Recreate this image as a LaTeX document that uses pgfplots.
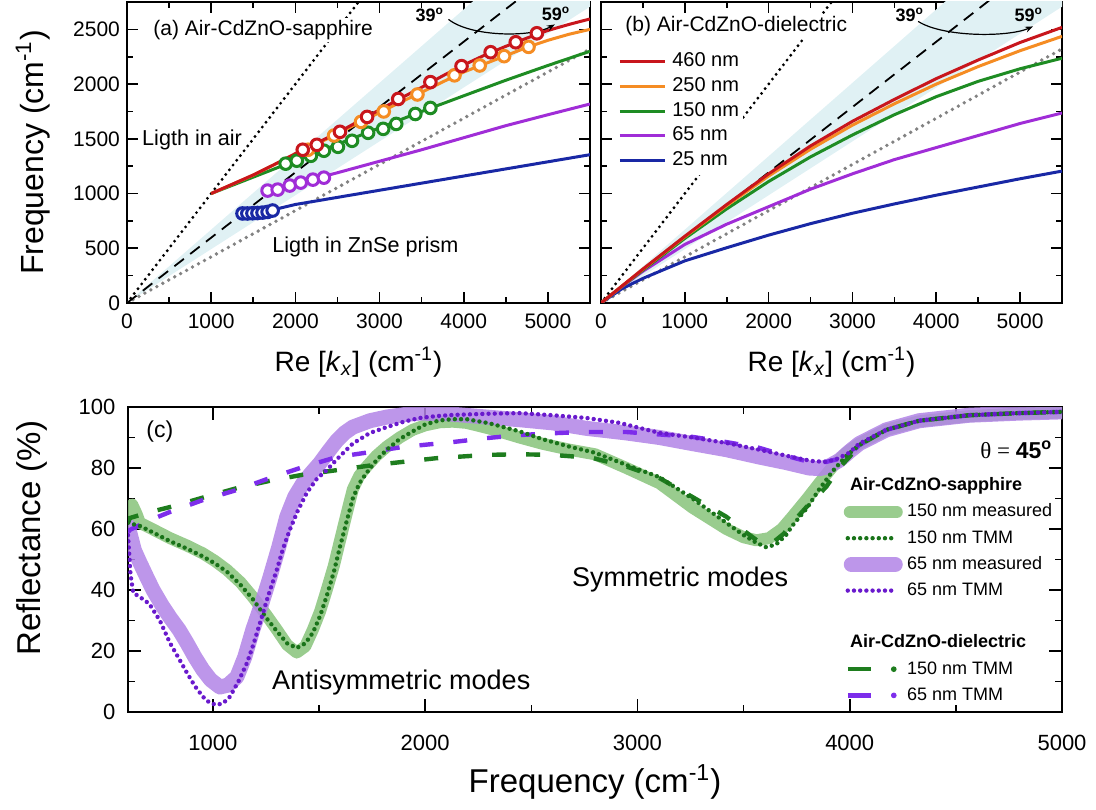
\documentclass[border=0pt]{standalone}
\usepackage{pgfplots}
\pgfplotsset{compat=1.18}
\usepackage{fontspec}
\setmainfont{Liberation Sans}
\newfontfamily\serifgreek{Liberation Serif}
\usetikzlibrary{arrows.meta}

% dispersion colours
\definecolor{cRed}{RGB}{200,22,28}
\definecolor{cOrange}{RGB}{245,140,35}
\definecolor{cGreen}{RGB}{30,140,35}
\definecolor{cPurple}{RGB}{160,45,215}
\definecolor{cBlue}{RGB}{25,40,165}
\definecolor{shade}{RGB}{224,241,244}
\definecolor{lineGray}{RGB}{130,130,130}
% reflectance colours
\definecolor{gBand}{RGB}{135,195,122}
\definecolor{pBand}{RGB}{178,132,230}
\definecolor{gTMM}{RGB}{25,115,25}
\definecolor{pTMM}{RGB}{105,25,205}
\definecolor{gDash}{RGB}{30,125,30}
\definecolor{pDash}{RGB}{125,45,235}

\pgfplotsset{
  panel/.style={
    scale only axis, anchor=south west,
    axis line style={line width=1pt},
    tick align=inside,
    tick style={black, line width=0.8pt},
    major tick length=5.5pt, minor tick length=3pt,
    scaled ticks=false,
    /pgf/number format/assume math mode=true,
    /pgf/number format/1000 sep={},
    tick label style={font=\fontsize{10.5}{12}\selectfont},
    xticklabel style={yshift=-2pt},
  },
  disp/.style={line width=1.5pt},
  airline/.style={black, line width=1.6pt, dash pattern=on 0pt off 3pt, line cap=round},
  prismline/.style={lineGray, line width=1.9pt, dash pattern=on 0pt off 3.4pt, line cap=round},
  angleline/.style={black, line width=0.9pt, dash pattern=on 6pt off 4pt},
  circ/.style={only marks, mark=*, mark size=2.9pt, draw=#1, fill=white, mark options={line width=1.5pt, solid}},
  band/.style={line width=#1, line join=round, line cap=round, opacity=0.85},
  tmm/.style={line width=2.2pt, dash pattern=on 0pt off 3.1pt, line cap=round},
  diel/.style={line width=2.2pt, dash pattern=on 7pt off 10pt},
}

\begin{document}
\begin{tikzpicture}
\useasboundingbox (0,0) rectangle (548pt,404.5pt);

% ---------------- (a) Air-CdZnO-sapphire ----------------
\begin{axis}[panel,
  at={(63.5pt,253pt)}, width=231.5pt, height=150.5pt,
  xmin=0, xmax=5500, ymin=0, ymax=2750,
  xtick={0,1000,...,5000}, minor xtick={500,1500,...,5500},
  ytick={0,500,...,2500}, minor ytick={250,750,...,2750},
  xlabel={Re [\textit{k}\textsubscript{\textit{x}}] (cm\textsuperscript{-1})},
  ylabel={Frequency (cm\textsuperscript{-1})},
  xlabel style={font=\fontsize{14}{16}\selectfont, at={(axis description cs:0.5,-0.196)}, anchor=center},
  ylabel style={font=\fontsize{16}{18}\selectfont, at={(axis description cs:-0.203,0.5)}, anchor=center},
]
% 39-59 degree incidence window in the prism
\addplot[draw=none, fill=shade] coordinates {(0,0) (5500,3688) (5500,2707) (0,0)};
\addplot[airline] coordinates {(0,0) (3000,3000)};
\addplot[prismline] coordinates {(0,0) (5500,2321)};
\addplot[angleline] coordinates {(0,0) (5500,3282)};

\addplot[disp, cBlue] coordinates {(1350,815) (1700,845) (2000,900) (2500,965) (3000,1030) (3500,1095) (4000,1160) (4500,1225) (5000,1290) (5500,1355)};
\addplot[disp, cPurple] coordinates {(1620,1025) (2000,1090) (2500,1190) (3000,1295) (3500,1400) (4000,1510) (4500,1620) (5000,1720) (5500,1818)};
\addplot[disp, cGreen] coordinates {(1000,1000) (1500,1150) (2000,1300) (2500,1450) (3000,1600) (3500,1750) (4000,1893) (4500,2035) (5000,2170) (5500,2300)};
\addplot[disp, cOrange] coordinates {(1000,1000) (1500,1168) (2000,1360) (2500,1545) (2750,1645) (3000,1740) (3250,1835) (3500,1925) (3750,2020) (4000,2110) (4250,2185) (4500,2260) (4750,2335) (5000,2400) (5250,2455) (5500,2500)};
\addplot[disp, cRed] coordinates {(1000,1000) (1250,1085) (1500,1170) (1750,1265) (2000,1365) (2250,1460) (2500,1555) (2750,1660) (3000,1765) (3250,1870) (3500,1970) (3750,2075) (4000,2175) (4250,2265) (4500,2345) (4750,2420) (5000,2490) (5250,2545) (5500,2595)};

\addplot[circ=cBlue] coordinates {(1372,818) (1430,818) (1490,820) (1550,822) (1610,826) (1670,832) (1730,845)};
\addplot[circ=cPurple] coordinates {(1670,1027) (1790,1036) (1933,1073) (2064,1100) (2208,1127) (2339,1145)};
\addplot[circ=cGreen] coordinates {(1885,1273) (2017,1300) (2184,1345) (2339,1391) (2506,1427) (2673,1482) (2864,1555) (3043,1591) (3198,1636) (3425,1727) (3604,1782)};
\addplot[circ=cOrange] coordinates {(2150,1400) (2460,1530) (2780,1655) (3050,1750) (3450,1905) (3890,2080) (4190,2170) (4480,2255) (4770,2340)};
\addplot[circ=cRed] coordinates {(2088,1400) (2255,1445) (2530,1564) (2852,1700) (3222,1864) (3604,2018) (3974,2164) (4320,2291) (4618,2382) (4869,2464)};

\node[anchor=west, fill=white, inner sep=1pt, font=\fontsize{10.5}{12}\selectfont] at (rel axis cs:0.052,0.907) {(a) Air-CdZnO-sapphire};
\node[anchor=west, inner sep=0pt, font=\fontsize{10.8}{12}\selectfont] at (rel axis cs:0.032,0.5415) {Ligth in air};
\node[anchor=west, inner sep=0pt, font=\fontsize{10.8}{12}\selectfont] at (rel axis cs:0.313,0.186) {Ligth in ZnSe prism};
\node[font=\bfseries\fontsize{9}{10}\selectfont] at (rel axis cs:0.654,0.957) {39\textsuperscript{o}};
\node[font=\bfseries\fontsize{9}{10}\selectfont] at (rel axis cs:0.9266,0.960) {59\textsuperscript{o}};
\draw[line width=0.6pt, -{Stealth[length=4pt, width=3pt]}] (axis cs:3819,2591) .. controls (axis cs:4093,2427) and (axis cs:4809,2427) .. (axis cs:5083,2545);
\end{axis}

% ---------------- (b) Air-CdZnO-dielectric ----------------
\begin{axis}[panel,
  at={(300.5pt,253pt)}, width=230.5pt, height=150.5pt,
  xmin=0, xmax=5500, ymin=0, ymax=2750,
  xtick={0,1000,...,5000}, minor xtick={500,1500,...,5500},
  ytick={0,500,...,2500}, minor ytick={250,750,...,2750},
  yticklabels={},
  xlabel={Re [\textit{k}\textsubscript{\textit{x}}] (cm\textsuperscript{-1})},
  xlabel style={font=\fontsize{14}{16}\selectfont, at={(axis description cs:0.5,-0.196)}, anchor=center},
  legend image code/.code={\draw[#1] (0pt,0pt) -- (22.5pt,0pt);},
  reverse legend,
  legend cell align=left,
  legend style={at={(0.028,0.85)}, anchor=north west, draw=none, fill=white,
    inner sep=2pt, font=\fontsize{10}{12}\selectfont, row sep=2.5pt, column sep=3pt,
    nodes={inner sep=0pt, text height=7.5pt, text depth=2.4pt}},
]
\addplot[draw=none, fill=shade, forget plot] coordinates {(0,0) (5500,3688) (5500,2707) (0,0)};
\addplot[airline, forget plot] coordinates {(0,0) (3000,3000)};
\addplot[prismline, forget plot] coordinates {(0,0) (5500,2321)};
\addplot[angleline, forget plot] coordinates {(0,0) (5500,3282)};

\addplot[disp, cBlue] coordinates {(0,0) (250,130) (500,225) (1000,385) (1500,505) (2000,620) (2500,725) (3000,820) (3500,905) (4000,985) (4500,1060) (5000,1135) (5500,1205)};
\addlegendentry{25 nm}
\addplot[disp, cPurple] coordinates {(0,0) (250,150) (500,290) (1000,535) (1500,720) (2000,880) (2500,1040) (3000,1180) (3500,1310) (4000,1420) (4500,1530) (5000,1640) (5500,1736)};
\addlegendentry{65 nm}
\addplot[disp, cGreen] coordinates {(0,0) (250,152) (500,300) (1000,590) (1500,860) (2000,1110) (2500,1335) (3000,1535) (3500,1720) (4000,1885) (4500,2025) (5000,2140) (5500,2236)};
\addlegendentry{150 nm}
\addplot[disp, cOrange] coordinates {(0,0) (250,155) (500,308) (1000,605) (1500,890) (2000,1160) (2500,1405) (3000,1625) (3500,1820) (4000,2000) (4500,2160) (5000,2305) (5500,2436)};
\addlegendentry{250 nm}
\addplot[disp, cRed] coordinates {(0,0) (250,155) (500,310) (1000,610) (1500,900) (2000,1180) (2500,1435) (3000,1660) (3500,1860) (4000,2050) (4500,2220) (5000,2380) (5500,2518)};
\addlegendentry{460 nm}

\node[anchor=west, fill=white, inner sep=1pt, font=\fontsize{10.5}{12}\selectfont] at (rel axis cs:0.0477,0.920) {(b) Air-CdZnO-dielectric};
\node[font=\bfseries\fontsize{9}{10}\selectfont] at (rel axis cs:0.670,0.957) {39\textsuperscript{o}};
\node[font=\bfseries\fontsize{9}{10}\selectfont] at (rel axis cs:0.928,0.957) {59\textsuperscript{o}};
\draw[line width=0.6pt, -{Stealth[length=4pt, width=3pt]}] (axis cs:3783,2573) .. controls (axis cs:4081,2427) and (axis cs:4857,2427) .. (axis cs:5155,2527);
\end{axis}

% ---------------- (c) reflectance at 45 degrees ----------------
\begin{axis}[panel,
  at={(64pt,48.5pt)}, width=467pt, height=152.5pt,
  xmin=600, xmax=5000, ymin=0, ymax=100,
  xtick={1000,2000,...,5000}, minor xtick={1500,2500,3500,4500},
  ytick={0,20,...,100}, minor ytick={10,30,...,90},
  major tick length=6.5pt, minor tick length=3.5pt,
  tick label style={font=\fontsize{11}{13}\selectfont},
  xticklabel style={yshift=-6pt},
  yticklabel style={xshift=-2.8pt},
  xlabel={Frequency (cm\textsuperscript{-1})},
  ylabel={Reflectance (\%)},
  xlabel style={font=\fontsize{16.5}{18}\selectfont, at={(axis description cs:0.5,-0.2295)}, anchor=center},
  ylabel style={font=\fontsize{16.5}{18}\selectfont, at={(axis description cs:-0.103,0.57)}, anchor=center},
  legend cell align=left,
  legend style={at={(0.7655,0.7725)}, anchor=north west, draw=none, fill=none,
    inner sep=0pt, font=\fontsize{9}{11}\selectfont, row sep=4.1pt, column sep=2pt,
    nodes={inner sep=0pt, text height=7pt, text depth=2pt}},
]
% measured spectra
\addplot[band=6pt, gBand, forget plot] coordinates {(600,66) (620,68) (640,65) (656,62) (700,60.5) (798,57) (880,54.5) (953,52) (1010,49.5) (1066,46.6) (1130,42.5) (1188,37.7) (1250,32) (1301,27) (1350,22) (1395,19.5) (1435,21.5) (1471,27) (1505,33) (1536,40) (1570,48) (1598,56) (1630,65) (1659,73) (1690,77.5) (1725,80.5) (1770,84) (1819,87) (1880,90) (1941,92.5) (2000,94) (2068,95) (2130,95.2) (2195,94.8) (2300,93) (2445,90) (2550,88) (2680,86) (2800,84.5) (2948,80) (3104,75) (3259,67) (3419,60) (3500,57.3) (3560,56.3) (3620,57) (3680,60) (3729,64) (3800,70) (3856,75) (3920,80.5) (3984,85) (4045,88) (4172,92.5) (4327,95.3) (4562,97) (4798,97.8) (5000,98.2)};
\addplot[band=7.5pt, pBand, forget plot] coordinates {(600,61) (609,58.7) (630,53) (656,49) (690,44) (718,40) (760,35) (798,31) (840,27) (878,22.6) (915,18) (953,13.8) (990,10.5) (1033,8.2) (1070,8.8) (1113,11.5) (1150,18) (1188,27) (1230,35.5) (1268,44) (1310,54) (1348,64) (1385,70.5) (1424,75) (1465,78.5) (1504,81.6) (1545,85.5) (1584,89) (1620,91.5) (1659,93.4) (1740,95.5) (1819,96.7) (1900,97.5) (1974,98) (2100,97.8) (2289,96.7) (2450,95.8) (2600,94.8) (2760,93) (2948,91.5) (3104,90) (3259,88) (3420,86) (3574,83.6) (3700,81.8) (3809,80) (3860,79.8) (3900,80.5) (3951,82.5) (4000,85.5) (4045,88) (4172,92.5) (4327,95.5) (4562,97.3) (4798,98) (5000,98.4)};
% transfer-matrix spectra, dielectric substrate
\addplot[diel, gDash, forget plot] coordinates {(600,62) (609,63.6) (700,65.5) (798,67.2) (953,70.3) (1113,73.4) (1268,75.8) (1424,77.8) (1584,79.3) (1739,80.8) (1894,82) (2050,83.2) (2289,84.3) (2445,84.5) (2600,84.3) (2788,83.3) (2948,80.5) (3104,76.7) (3259,70.5) (3419,64) (3500,59.5) (3574,55.7) (3635,55.4) (3690,58.5) (3729,62) (3800,67.5) (3889,73.8) (3950,80) (3998,83.6) (4045,87.5) (4172,92.5) (4327,95.5) (4562,97.3) (4798,98) (5000,98.4)};
\addplot[diel, pDash, forget plot] coordinates {(600,59) (609,59.7) (700,62.8) (798,65.6) (953,69.5) (1113,72.8) (1268,76.7) (1424,80.3) (1584,83.6) (1739,85.2) (1894,86.9) (2129,88.5) (2289,89.8) (2445,90.8) (2633,91.5) (2760,91.8) (2948,91.8) (3104,91) (3259,90.2) (3419,88.5) (3574,86.6) (3700,84) (3809,82) (3889,82) (3950,83) (3998,84.5) (4045,87.5) (4172,92.5) (4327,95.5) (4562,97.3) (4798,98) (5000,98.4)};
% transfer-matrix spectra, sapphire substrate
\addplot[tmm, gTMM, forget plot] coordinates {(600,62) (656,61) (700,59.5) (798,56) (880,53.5) (953,51) (1010,48.7) (1066,46) (1130,41.7) (1188,37) (1250,31) (1301,26.5) (1350,22.5) (1395,21) (1435,22.5) (1471,26) (1505,31.5) (1536,38) (1570,46) (1598,54) (1630,62.5) (1659,70) (1690,75) (1725,78.5) (1770,82.5) (1819,86) (1880,89.5) (1941,92) (2000,94.3) (2068,95.6) (2130,96) (2195,96) (2300,94.7) (2445,92) (2550,89.5) (2680,87) (2800,85) (2948,81) (3104,77) (3259,70) (3419,62) (3500,58) (3560,55.5) (3607,54) (3654,55) (3700,58) (3729,61) (3800,67) (3856,73) (3920,79) (3984,84) (4045,87.5) (4172,92.5) (4327,95.5) (4562,97.3) (4798,98) (5000,98.4)};
\addplot[tmm, pTMM, forget plot] coordinates {(600,58) (612,45) (625,39) (650,38) (700,35.5) (750,30) (798,22.6) (840,17.5) (878,12.8) (915,8.5) (953,5) (985,3) (1019,2.3) (1050,3) (1080,5) (1120,10) (1160,16) (1190,22) (1221,29) (1260,38) (1301,46.6) (1330,53.5) (1362,59.7) (1400,66) (1442,71.8) (1490,76.5) (1536,79.3) (1600,84) (1659,88) (1740,91.5) (1819,93.4) (1900,95.2) (1974,96.4) (2050,97) (2129,97.4) (2300,97.8) (2445,98) (2600,97.3) (2760,96.4) (2915,94.8) (3104,91.5) (3260,90) (3419,88.2) (3574,86) (3729,83.6) (3820,82.3) (3889,82) (3940,83) (3998,85) (4045,88) (4172,92.5) (4327,95.5) (4562,97.3) (4798,98) (5000,98.4)};

% legend
\addlegendimage{empty legend}
\addlegendentry{\hspace*{-28.5pt}\textbf{Air-CdZnO-sapphire}}
\addlegendimage{legend image code/.code={\draw[gBand, opacity=0.85, line width=6pt, line cap=round] (3pt,0pt) -- (26.5pt,0pt); \path (0pt,0pt) (29.5pt,0pt);}}
\addlegendentry{150 nm measured}
\addlegendimage{legend image code/.code={\draw[gTMM, line width=2.2pt, dash pattern=on 0pt off 3.1pt, line cap=round] (2pt,0pt) -- (26pt,0pt); \path (0pt,0pt) (29.5pt,0pt);}}
\addlegendentry{150 nm TMM}
\addlegendimage{legend image code/.code={\draw[pBand, opacity=0.85, line width=7.5pt, line cap=round] (3.75pt,0pt) -- (25.75pt,0pt); \path (0pt,0pt) (29.5pt,0pt);}}
\addlegendentry{65 nm measured}
\addlegendimage{legend image code/.code={\draw[pTMM, line width=2.2pt, dash pattern=on 0pt off 3.1pt, line cap=round] (2pt,0pt) -- (26pt,0pt); \path (0pt,0pt) (29.5pt,0pt);}}
\addlegendentry{65 nm TMM}
\addlegendimage{empty legend}
\addlegendentry{}
\addlegendimage{empty legend}
\addlegendentry{\hspace*{-28.5pt}\textbf{Air-CdZnO-dielectric}}
\addlegendimage{legend image code/.code={\draw[gDash, line width=2.2pt] (2pt,0pt) -- (13.5pt,0pt); \fill[gDash] (25pt,0pt) circle (1.2pt); \path (0pt,0pt) (29.5pt,0pt);}}
\addlegendentry{150 nm TMM}
\addlegendimage{legend image code/.code={\draw[pDash, line width=2.2pt] (2pt,0pt) -- (13.5pt,0pt); \fill[pDash] (25pt,0pt) circle (1.2pt); \path (0pt,0pt) (29.5pt,0pt);}}
\addlegendentry{65 nm TMM}

\node[anchor=west, inner sep=0pt, font=\fontsize{11.5}{13}\selectfont] at (rel axis cs:0.0193,0.918) {(c)};
\node[anchor=west, inner sep=0pt, font=\fontsize{13.5}{15}\selectfont] at (rel axis cs:0.154,0.098) {Antisymmetric modes};
\node[anchor=west, inner sep=0pt, font=\fontsize{13.5}{15}\selectfont] at (rel axis cs:0.475,0.433) {Symmetric modes};
\node[anchor=east, inner sep=0pt, font=\fontsize{11.5}{13}\selectfont] at (rel axis cs:0.990,0.859) {{\serifgreek θ = }\textbf{45\textsuperscript{o}}};
\end{axis}
\end{tikzpicture}
\end{document}
